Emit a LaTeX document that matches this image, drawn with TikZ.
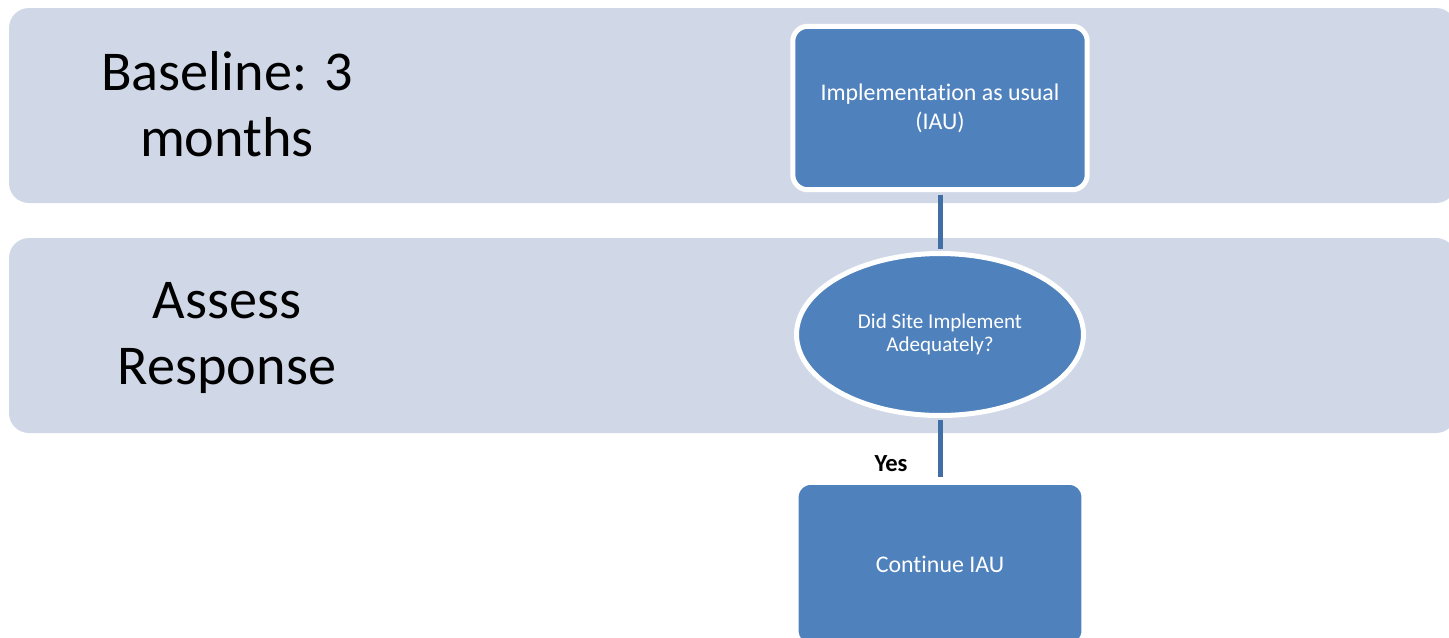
\documentclass[tikz,border=0pt]{standalone}
\usepackage{fontspec}
\setmainfont{Carlito}[Ligatures=NoCommon]
\usetikzlibrary{positioning, shapes.geometric}
\definecolor{lanefill}{RGB}{208,216,232}
\definecolor{stepblue}{RGB}{79,129,189}
\definecolor{linkblue}{RGB}{65,110,165}

\tikzset{
  lane/.style={fill=lanefill, rounded corners=0.4cm},
  lanetext/.style={align=center, font=\fontsize{32}{37.5}\selectfont},
  stepbox/.style={draw=white, line width=0.1cm, fill=stepblue, rounded corners=0.3cm,
    text=white, align=center, font=\fontsize{13.6}{16.5}\selectfont},
  decision/.style={ellipse, draw=white, line width=0.1cm, fill=stepblue, text=white,
    align=center, inner sep=0pt, font=\fontsize{12}{13.1}\selectfont},
  link/.style={linkblue, line width=0.1cm, shorten <=0.05cm, shorten >=0.05cm},
}

\begin{document}
\begin{tikzpicture}[x=0.02cm, y=-0.02cm]
  \useasboundingbox (0,0) rectangle (1449,637);

  % Lanes
  \fill[lane] (9,8) rectangle (1456,203);
  \fill[lane] (9,238) rectangle (1456,433);
  \node[lanetext] (baseline) at (227,104) {Baseline: 3\\months};
  \node[lanetext] (assess) at (227,338) {Assess\\Response};

  % Flow
  \node[stepbox, minimum width=5.89cm, minimum height=3.27cm] (iau) at (940,108) {Implementation as usual\\(IAU)};
  \node[decision, minimum width=5.74cm, minimum height=3.24cm] (adequate) at (940,334.5) {Did Site Implement\\Adequately?};
  \node[stepbox, minimum width=5.76cm, minimum height=3.27cm] (continue) at (940,564) {Continue IAU};

  \draw[link] (iau) -- (adequate);
  \draw[link] (adequate) -- node[pos=0.74, left=0.6cm, inner sep=0pt, text=black, font=\bfseries\fontsize{14}{16}\selectfont] (yes) {Yes} (continue);
\end{tikzpicture}
\end{document}
